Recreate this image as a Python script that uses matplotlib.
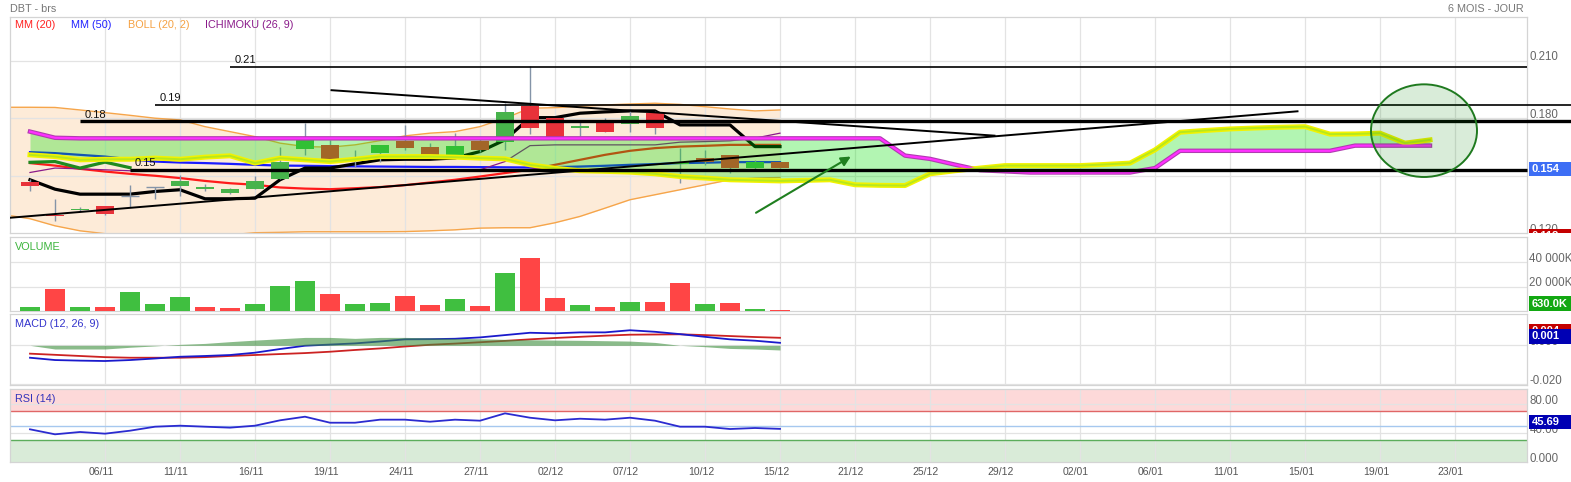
import numpy as np
import matplotlib
matplotlib.use('Agg')
import matplotlib.pyplot as plt
from matplotlib.patches import Ellipse, Rectangle
from matplotlib.transforms import Bbox, TransformedBbox, blended_transform_factory

plt.rcParams['font.family'] = ['Liberation Sans', 'DejaVu Sans']

# ---------------- data ----------------
tick_dates = ['06/11', '11/11', '16/11', '19/11', '24/11', '27/11', '02/12', '07/12',
              '10/12', '15/12', '21/12', '25/12', '29/12', '02/01', '06/01', '11/01',
              '15/01', '19/01', '23/01']

opens = [0.1470, 0.1296, 0.1319, 0.1340, 0.1395, 0.1439, 0.1444, 0.1433, 0.1409, 0.1430,
         0.1485, 0.1639, 0.1661, 0.1588, 0.1621, 0.1683, 0.1649, 0.1609, 0.1683, 0.1675,
         0.1866, 0.1800, 0.1748, 0.1774, 0.1769, 0.1826, 0.1560, 0.1592, 0.1609, 0.1543, 0.1571]
closes = [0.1447, 0.1288, 0.1328, 0.1302, 0.1395, 0.1439, 0.1473, 0.1442, 0.1432, 0.1473,
          0.1572, 0.1701, 0.1574, 0.1588, 0.1661, 0.1644, 0.1609, 0.1656, 0.1635, 0.1831,
          0.1751, 0.1696, 0.1760, 0.1730, 0.1812, 0.1748, 0.1570, 0.1574, 0.1540, 0.1571, 0.1542]
highs = [0.1484, 0.1380, 0.1336, 0.1343, 0.1453, 0.1441, 0.1505, 0.1456, 0.1435, 0.1500,
         0.1652, 0.1777, 0.1687, 0.1635, 0.1661, 0.1765, 0.1673, 0.1725, 0.1691, 0.1878,
         0.2074, 0.1800, 0.1791, 0.1800, 0.1838, 0.1838, 0.1644, 0.1635, 0.1609, 0.1583, 0.1572]
lows = [0.1423, 0.1262, 0.1314, 0.1296, 0.1338, 0.1378, 0.1392, 0.1418, 0.1404, 0.1430,
        0.1485, 0.1609, 0.1574, 0.1548, 0.1574, 0.1635, 0.1600, 0.1604, 0.1626, 0.1635,
        0.1718, 0.1696, 0.1709, 0.1727, 0.1730, 0.1718, 0.1461, 0.1557, 0.1514, 0.1531, 0.1540]

# volume in K
volume = [3050, 18100, 3550, 3050, 15650, 5750, 11300, 3050, 2200, 5750,
          20800, 24700, 13750, 5750, 6600, 12350, 4950, 9650, 4100, 31300,
          43600, 10450, 5200, 3050, 7400, 7400, 23050, 6000, 6850, 1650, 630]
vol_up = [1, 0, 1, 0, 1, 1, 1, 0, 0, 1, 1, 1, 0, 1, 1, 0, 0, 1, 0, 1,
          0, 0, 1, 0, 1, 0, 0, 1, 0, 1, 0]

mm20 = [0.1566, 0.1553, 0.1536, 0.1522, 0.1510, 0.1500, 0.1488, 0.1473, 0.1461, 0.1453,
        0.1439, 0.1433, 0.1430, 0.1435, 0.1441, 0.1451, 0.1465, 0.1479, 0.1496, 0.1514,
        0.1531, 0.1557, 0.1583, 0.1609, 0.1630, 0.1644, 0.1652, 0.1656, 0.1661, 0.1661, 0.1661]
mm50 = [0.1623, 0.1618, 0.1609, 0.1600, 0.1586, 0.1574, 0.1569, 0.1566, 0.1562, 0.1557,
        0.1553, 0.1552, 0.1550, 0.1549, 0.1548, 0.1547, 0.1546, 0.1546, 0.1545, 0.1544,
        0.1543, 0.1545, 0.1548, 0.1552, 0.1557, 0.1561, 0.1566, 0.1568, 0.1571, 0.1571, 0.1571]

# bollinger bands start one session before the first candle
boll_up = [0.1857, 0.1857, 0.1856, 0.1843, 0.1829, 0.1815, 0.1800, 0.1791, 0.1756, 0.1730,
           0.1704, 0.1670, 0.1652, 0.1649, 0.1661, 0.1683, 0.1708, 0.1722, 0.1730, 0.1756,
           0.1800, 0.1852, 0.1855, 0.1862, 0.1869, 0.1874, 0.1878, 0.1872, 0.1860, 0.1848,
           0.1838, 0.1843]
boll_dn = [0.1296, 0.1276, 0.1239, 0.1213, 0.1198, 0.1187, 0.1177, 0.1177, 0.1182, 0.1192,
           0.1203, 0.1205, 0.1208, 0.1208, 0.1208, 0.1208, 0.1209, 0.1213, 0.1218, 0.1227,
           0.1229, 0.1229, 0.1255, 0.1288, 0.1331, 0.1375, 0.1401, 0.1427, 0.1453, 0.1479,
           0.1488, 0.1491]

# ichimoku
tenkan = [0.1479, 0.1430, 0.1404, 0.1404, 0.1404, 0.1418, 0.1427, 0.1380, 0.1380, 0.1383,
          0.1479, 0.1540, 0.1540, 0.1562, 0.1583, 0.1586, 0.1586, 0.1593, 0.1626, 0.1687,
          0.1803, 0.1803, 0.1826, 0.1833, 0.1838, 0.1838, 0.1765, 0.1765, 0.1765, 0.1652, 0.1652]
kijun = [0.1517, 0.1540, 0.1536, 0.1531, 0.1526, 0.1523, 0.1523, 0.1523, 0.1523, 0.1523,
         0.1523, 0.1523, 0.1523, 0.1523, 0.1523, 0.1523, 0.1523, 0.1523, 0.1531, 0.1574,
         0.1657, 0.1661, 0.1661, 0.1661, 0.1661, 0.1661, 0.1675, 0.1678, 0.1682, 0.1696, 0.1722]
senkou_a = [0.1609, 0.1600, 0.1583, 0.1586, 0.1586, 0.1592, 0.1586, 0.1597, 0.1604, 0.1566,
            0.1592, 0.1583, 0.1574, 0.1586, 0.1600, 0.1600, 0.1600, 0.1597, 0.1592, 0.1588,
            0.1557, 0.1539, 0.1526, 0.1523, 0.1519, 0.1510, 0.1496, 0.1488, 0.1479, 0.1476,
            0.1473, 0.1476, 0.1479, 0.1453, 0.1450, 0.1449, 0.1510, 0.1526, 0.1540, 0.1553,
            0.1553, 0.1553, 0.1553, 0.1559, 0.1566, 0.1635, 0.1727, 0.1736, 0.1744, 0.1749,
            0.1753, 0.1756, 0.1717, 0.1718, 0.1722, 0.1670, 0.1687]
senkou_b = [0.1730, 0.1698, 0.1695, 0.1695, 0.1695, 0.1695, 0.1695, 0.1695, 0.1695, 0.1695,
            0.1695, 0.1695, 0.1695, 0.1695, 0.1695, 0.1695, 0.1695, 0.1695, 0.1695, 0.1695,
            0.1695, 0.1695, 0.1695, 0.1695, 0.1695, 0.1695, 0.1695, 0.1695, 0.1695, 0.1695,
            0.1695, 0.1695, 0.1695, 0.1695, 0.1695, 0.1605, 0.1588, 0.1558, 0.1529, 0.1523,
            0.1517, 0.1517, 0.1517, 0.1517, 0.1517, 0.1540, 0.1630, 0.1630, 0.1630, 0.1630,
            0.1630, 0.1630, 0.1630, 0.1657, 0.1657, 0.1657, 0.1657]
chikou_shift = 26

macd_line = [-0.0064, -0.0076, -0.0079, -0.0081, -0.0076, -0.0068, -0.0059, -0.0055, -0.0050, -0.0038,
             -0.0019, -0.0002, 0.0004, 0.0010, 0.0020, 0.0031, 0.0032, 0.0034, 0.0041, 0.0053,
             0.0065, 0.0062, 0.0067, 0.0067, 0.0078, 0.0070, 0.0058, 0.0044, 0.0031, 0.0024, 0.0013]
macd_signal = [-0.0043, -0.0049, -0.0055, -0.0061, -0.0064, -0.0064, -0.0064, -0.0061, -0.0055, -0.0050,
               -0.0045, -0.0040, -0.0033, -0.0024, -0.0016, -0.0006, 0.0003, 0.0009, 0.0016, 0.0023,
               0.0031, 0.0038, 0.0044, 0.0050, 0.0055, 0.0056, 0.0057, 0.0053, 0.0048, 0.0043, 0.0039]
macd_hist = [0.0000, -0.0019, -0.0019, -0.0019, -0.0010, -0.0003, 0.0005, 0.0010, 0.0019, 0.0027,
             0.0034, 0.0041, 0.0041, 0.0036, 0.0041, 0.0041, 0.0039, 0.0036, 0.0034, 0.0031,
             0.0029, 0.0027, 0.0026, 0.0024, 0.0022, 0.0015, 0.0000, -0.0007, -0.0016, -0.0019, -0.0024]

rsi = [45.1, 38.2, 41.4, 39.1, 43.2, 48.7, 50.1, 48.7, 47.4, 50.1,
       57.5, 62.5, 54.2, 54.2, 58.4, 58.4, 55.6, 58.4, 57.0, 67.1,
       61.1, 57.5, 59.7, 58.4, 61.1, 57.0, 48.7, 48.7, 45.5, 46.9, 45.69]

# hand-drawn objects (x in sessions, y in price)
levels = [0.2067, 0.1868, 0.1784, 0.1531]
level_names = ['0.21', '0.19', '0.18', '0.15']
level_start = [8, 5, 2, 4]
trend_up_x, trend_up_y = [-0.8, 50.7], [0.1281, 0.1836]
trend_dn_x, trend_dn_y = [12.06, 38.58], [0.1946, 0.1709]
arrow_from, arrow_to = (29.04, 0.1307), (32.83, 0.1600)
circle_xy, circle_w, circle_h = (55.76, 0.1735), 4.24, 0.0483
low_tag = 0.1184

# ---------------- layout ----------------
W, H = 1571, 482
fig = plt.figure(figsize=(W / 100, H / 100), dpi=100)
tick_pos = np.arange(3, 3 * len(tick_dates) + 1, 3)
XMIN, XMAX = -0.8, 59.86
GREY = '#666666'


def panel(top, bottom):
    a = fig.add_axes([10 / W, 1 - bottom / H, 1516.5 / W, (bottom - top) / H])
    a.set_xlim(XMIN, XMAX)
    a.set_xticks(tick_pos)
    a.tick_params(length=0, labelbottom=False, labelleft=False)
    a.grid(True, color='#e3e3e3', lw=0.9)
    for s in a.spines.values():
        s.set_color('#d4d4d4')
        s.set_linewidth(0.9)
    return a


def scale_label(a, y, txt):
    a.annotate(txt, xy=(1, y), xycoords=('axes fraction', 'data'), xytext=(2.0, 2.5),
               textcoords='offset points', ha='left', va='center', fontsize=8.3,
               color=GREY, annotation_clip=False)


def value_box(a, y, txt, fc, dy_px=0.0, z=10, clip=None):
    # coloured tag on the right scale, running to the figure edge
    lo, hi = a.get_ylim()
    k = (hi - lo) / (a.get_position().height * H)
    yc = y + dy_px * k
    tr = blended_transform_factory(fig.transFigure, a.transData)
    r = Rectangle((1529 / W, yc - 7.3 * k), 1 - 1529 / W, 14.6 * k, transform=tr,
                  fc=fc, ec='none', zorder=z, clip_on=False)
    a.add_patch(r)
    t = a.text(1531.5 / W, yc, txt, transform=tr, color='white', fontsize=8,
               fontweight='bold', va='center', ha='left', zorder=z + 0.5, clip_on=False)
    if clip is not None:
        for art in (r, t):
            art.set_clip_box(clip)
            art.set_clip_on(True)


ax = panel(17.3, 233.3)
axv = panel(237.5, 311)
axm = panel(314, 385)
axr = panel(389.3, 462)

x = np.arange(len(closes))
o, h, l, c = (np.array(v) for v in (opens, highs, lows, closes))

# ---------------- price panel ----------------
ax.set_ylim(0.120, 0.2326)
ax.set_yticks([0.15, 0.18, 0.21])
for v, t in [(0.21, '0.210'), (0.18, '0.180'), (0.15, '0.150'), (0.12, '0.120')]:
    scale_label(ax, v, t)

bx = np.arange(-1, len(closes))
ax.fill_between(bx, boll_dn, boll_up, color='#fdebd8', lw=0, zorder=1)
ax.plot(bx, boll_up, color='#f6a54a', lw=1, zorder=1.6)
ax.plot(bx, boll_dn, color='#f6a54a', lw=1, zorder=1.6)

ax.plot(x, mm20, color='#ff1a1a', lw=1.6, zorder=2)
ax.plot(x, mm50, color='#1a1aff', lw=1.6, zorder=2)
ax.plot(x, kijun, color='#8a1a8a', lw=0.9, zorder=2.2)
ax.plot(x, tenkan, color='black', lw=2.3, zorder=2.4)
ax.plot(x[chikou_shift:] - chikou_shift, c[chikou_shift:], color='#1f8a1f', lw=2.3, zorder=2.4)

up, dn, doji = c > o, c < o, c == o
ax.vlines(x, l, h, color='#8494a8', lw=1, zorder=3)
ax.bar(x[up], (c - o)[up], bottom=o[up], width=0.72, color='#47b34b', zorder=3.1)
ax.bar(x[dn], (o - c)[dn], bottom=c[dn], width=0.72, color='#e8323a', zorder=3.1)
ax.hlines(o[doji], x[doji] - 0.36, x[doji] + 0.36, color='#8494a8', lw=1, zorder=3.1)

cx = np.arange(len(senkou_a))
ax.fill_between(cx, senkou_a, senkou_b, color='#00e000', alpha=0.3, lw=0, zorder=4)
ax.plot(cx, senkou_b, color='#b03cb0', lw=3.2, zorder=5)
ax.plot(cx, senkou_b, color='#ff30ff', lw=1.6, zorder=5.1)
ax.plot(cx, senkou_a, color='#f2f200', lw=3.6, zorder=5)
ax.plot(cx, senkou_a, color='#b8e81c', lw=1.4, zorder=5.1)

# hand-drawn levels and trend lines
fig_right = XMIN + (XMAX - XMIN) * (W - 10) / 1516.5
for lev, name, x0 in zip(levels, level_names, level_start):
    thick = name in ('0.18', '0.15')
    x1 = fig_right if name in ('0.19', '0.18') else XMAX
    ax.plot([x0, x1], [lev, lev], color='black', lw=2.4 if thick else 1.2,
            zorder=6, clip_on=False, solid_capstyle='butt')
    ax.annotate(name, xy=(x0, lev), xytext=(3, 1.2), textcoords='offset points',
                ha='left', va='bottom', fontsize=8, color='#111111', zorder=6)
ax.plot(trend_up_x, trend_up_y, color='black', lw=1.4, zorder=6)
ax.plot(trend_dn_x, trend_dn_y, color='black', lw=1.4, zorder=6)
ax.annotate('', xy=arrow_to, xytext=arrow_from, zorder=7,
            arrowprops=dict(arrowstyle='-|>', color='#1f7f1f', lw=1.5, mutation_scale=14,
                            shrinkA=0, shrinkB=0))
ax.add_patch(Ellipse(circle_xy, circle_w, circle_h, fc=(0, 0.5, 0, 0.15),
                     ec='#1f7a1f', lw=1.4, zorder=7))

value_box(ax, c[-1], f'{c[-1]:.3f}', '#3d6ef5', dy_px=-1.4)
main_clip = TransformedBbox(Bbox([[0, 1 - 233.3 / H], [1, 1 - 17.3 / H]]), fig.transFigure)
value_box(ax, low_tag, f'{low_tag:.3f}', '#c40000', clip=main_clip)

# ---------------- volume ----------------
axv.set_ylim(0, 60500)
axv.set_yticks([20000, 40000])
scale_label(axv, 40000, '40 000K')
scale_label(axv, 20000, '20 000K')
vcol = ['#40bf40' if u else '#ff4545' for u in vol_up]
axv.bar(x, volume, width=0.8, color=vcol, zorder=3)
value_box(axv, volume[-1], f'{volume[-1]:.1f}K', '#12a812', dy_px=6.5)

# ---------------- MACD ----------------
axm.set_ylim(-0.0205, 0.0162)
axm.set_yticks([-0.02, 0])
scale_label(axm, 0, '0.000')
scale_label(axm, -0.02, '-0.020')
axm.plot(x, macd_signal, color='#cc2222', lw=1.3, zorder=2)
axm.plot(x, macd_line, color='#1a1acc', lw=1.3, zorder=2)
axm.fill_between(x, 0, macd_hist, color='#3d8f3d', alpha=0.6, lw=0, zorder=3)
value_box(axm, macd_signal[-1], f'{macd_signal[-1]:.3f}', '#c40000', dy_px=6.5, z=10)
value_box(axm, macd_line[-1], f'{macd_line[-1]:.3f}', '#0000b4', dy_px=6.5, z=11)

# ---------------- RSI ----------------
axr.set_ylim(0, 100.3)
axr.set_yticks([40, 80])
for v, t in [(80, '80.00'), (40, '40.00'), (0, '0.000')]:
    scale_label(axr, v, t)
axr.axhspan(70, 100.3, color='#fdd9d9', lw=0, zorder=0.4)
axr.axhspan(0, 30, color='#d9ebd8', lw=0, zorder=0.4)
axr.axhline(70, color='#e06666', lw=1, zorder=1.6)
axr.axhline(50, color='#a6c8ef', lw=1, zorder=1.6)
axr.axhline(30, color='#5cad5c', lw=1, zorder=1.6)
axr.plot(x, rsi, color='#2b2bd0', lw=1.3, zorder=3)
value_box(axr, rsi[-1], f'{rsi[-1]:.2f}', '#0000b4', dy_px=6.8)

# date labels sit a little left of their grid line
for p, d in zip(tick_pos, tick_dates):
    axr.annotate(d, xy=(p, 0), xycoords=('data', 'axes fraction'), xytext=(-2.9, -7.2),
                 textcoords='offset points', ha='center', va='center', fontsize=7.5,
                 color='#555555', annotation_clip=False)

# ---------------- titles / legends ----------------
fig.text(10 / W, 1 - 9 / H, 'DBT - brs', color='#777777', fontsize=7.8, va='center')
fig.text(1524 / W, 1 - 9 / H, '6 MOIS - JOUR', color='#777777', fontsize=7.8,
         va='center', ha='right')
for px, txt, col in [(15, 'MM (20)', '#ff2020'), (70.7, 'MM (50)', '#2020ff'),
                     (127.7, 'BOLL (20, 2)', '#f5a142'), (205, 'ICHIMOKU (26, 9)', '#8a1a8a')]:
    fig.text(px / W, 1 - 25 / H, txt, color=col, fontsize=7.8, va='center')
fig.text(15 / W, 1 - 246.7 / H, 'VOLUME', color='#3cb43c', fontsize=7.8, va='center')
fig.text(15 / W, 1 - 324 / H, 'MACD (12, 26, 9)', color='#3333cc', fontsize=7.8, va='center')
fig.text(15 / W, 1 - 398.7 / H, 'RSI (14)', color='#3333bb', fontsize=7.8, va='center')

fig.savefig('out.png', dpi=100)
